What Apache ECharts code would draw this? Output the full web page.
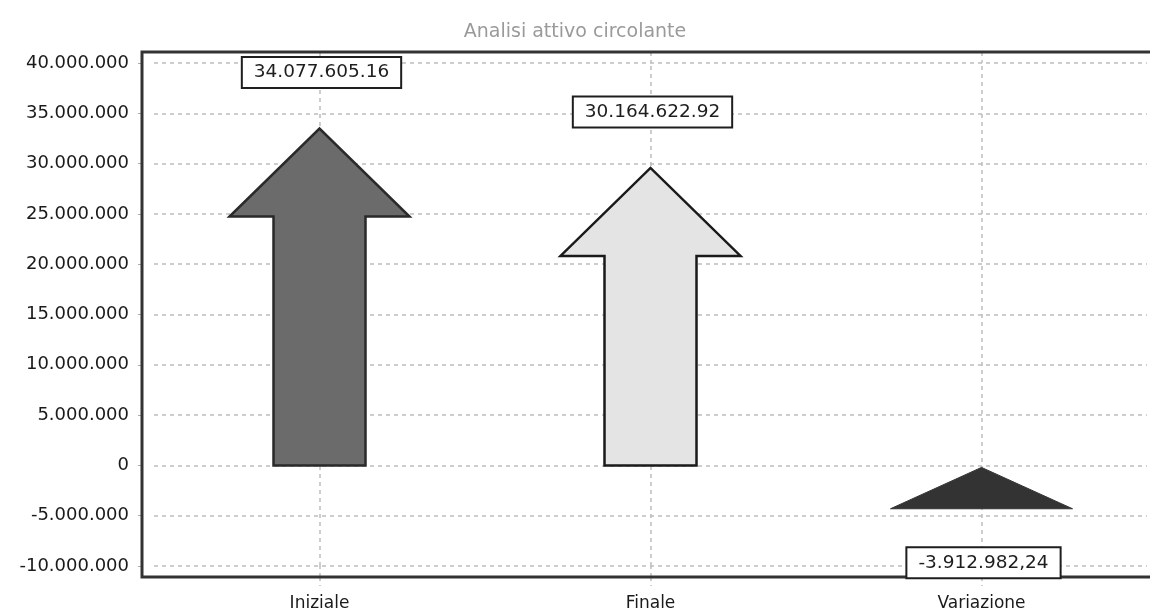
<!DOCTYPE html>
<html>
<head>
<meta charset="utf-8">
<script src="https://cdn.jsdelivr.net/npm/echarts@6/dist/echarts.min.js"></script>
<style>
html,body{margin:0;padding:0;background:#fff;}
#chart{width:1150px;height:615px;}
</style>
</head>
<body>
<div id="chart"></div>
<script>
const titleText = 'Analisi attivo circolante';
const categories = ['Iniziale', 'Finale', 'Variazione'];
const values = [34077605.16, 30164622.92, -3912982.24];
const valueLabels = ['34.077.605.16', '30.164.622.92', '-3.912.982,24'];
const yMin = -10000000;
const yMax = 40000000;
const yStep = 5000000;

const fills = ['#6b6b6b', '#e4e4e4', '#333333'];
const strokes = ['#2a2a2a', '#1a1a1a', '#333333'];

function fmt(v) {
  const s = String(Math.abs(Math.round(v))).replace(/\B(?=(\d{3})+(?!\d))/g, '.');
  return (v < 0 ? '-' : '') + s;
}

const chart = echarts.init(document.getElementById('chart'));
const FONT = '"DejaVu Sans", sans-serif';
const dash = { color: '#bdbdbd', width: 1.5, type: [4, 4] };

chart.setOption({
  animation: false,
  backgroundColor: '#ffffff',
  title: {
    text: titleText,
    left: 'center',
    top: 18,
    textStyle: { fontFamily: FONT, fontSize: 19, fontWeight: 'normal', color: '#9a9a9a' }
  },
  grid: [
    { left: 154, right: 3, top: 63, bottom: 49, containLabel: false, outerBoundsMode: 'none' },
    { left: 142, right: -20, top: 52, bottom: 38, show: true, borderColor: '#333', borderWidth: 3, backgroundColor: 'transparent', z: 5, containLabel: false, outerBoundsMode: 'none' }
  ],
  xAxis: [{
    type: 'category',
    gridIndex: 0,
    data: categories,
    position: 'bottom',
    offset: 11,
    axisLine: { show: false, onZero: false },
    axisTick: { show: true, alignWithLabel: true, length: 9, lineStyle: dash },
    axisLabel: { margin: 18, fontFamily: FONT, fontSize: 17, color: '#1a1a1a' },
    splitLine: { show: false }
  }, {
    type: 'category',
    gridIndex: 0,
    data: categories,
    position: 'top',
    offset: 11,
    axisLine: { show: false, onZero: false },
    axisTick: { show: true, inside: true, alignWithLabel: true, length: 11, lineStyle: dash },
    axisLabel: { show: false },
    splitLine: { show: false }
  }, {
    type: 'category',
    gridIndex: 0,
    data: categories,
    position: 'bottom',
    offset: 11,
    axisLine: { show: false, onZero: false },
    axisTick: { show: true, inside: true, alignWithLabel: true, length: 11, lineStyle: dash },
    axisLabel: { show: false },
    splitLine: { show: false }
  }, {
    type: 'value',
    gridIndex: 1,
    show: false
  }],
  yAxis: [{
    type: 'value',
    gridIndex: 0,
    min: yMin,
    max: yMax,
    interval: yStep,
    position: 'left',
    offset: 12,
    axisLine: { show: false },
    axisTick: { show: true, length: 4, lineStyle: { color: '#aaa' } },
    axisLabel: { margin: 13, fontFamily: FONT, fontSize: 18, color: '#1a1a1a', formatter: fmt },
    splitLine: { show: true, lineStyle: dash }
  }, {
    type: 'value',
    gridIndex: 1,
    show: false
  }],
  series: [{
    type: 'line',
    xAxisIndex: 0,
    yAxisIndex: 0,
    data: [],
    silent: true,
    z: 1,
    markLine: {
      silent: true,
      z: 1,
      symbol: ['none', 'none'],
      label: { show: false },
      lineStyle: dash,
      data: categories.map(c => ({ xAxis: c }))
    }
  }, {
    type: 'custom',
    xAxisIndex: 0,
    yAxisIndex: 0,
    z: 10,
    data: values.map((v, i) => [i, v]),
    renderItem: function (params, api) {
      const i = api.value(0);
      const v = api.value(1);
      const base = api.coord([i, 0]);
      const top = api.coord([i, v]);
      const cx = base[0];
      const children = [];
      if (v >= 0) {
        const y0 = base[1];
        const yT = top[1] + 6;
        const hb = yT + 88;
        children.push({
          type: 'polygon',
          shape: { points: [
            [cx - 46, y0], [cx - 46, hb], [cx - 90, hb], [cx, yT],
            [cx + 90, hb], [cx + 46, hb], [cx + 46, y0]
          ] },
          style: { fill: fills[i], stroke: strokes[i], lineWidth: 2.5, lineJoin: 'miter' }
        });
      } else {
        children.push({
          type: 'polygon',
          shape: { points: [[cx - 91, top[1] + 4], [cx, base[1] + 2], [cx + 91, top[1] + 4]] },
          style: { fill: fills[i], stroke: strokes[i], lineWidth: 1 }
        });
      }
      children.push({
        type: 'text',
        z2: 10,
        x: cx + 2,
        y: v >= 0 ? top[1] - 50 : top[1] + 58,
        style: {
          text: valueLabels[i],
          font: '18.5px ' + FONT,
          fill: '#1e1e1e',
          align: 'center',
          verticalAlign: 'middle',
          backgroundColor: '#ffffff',
          borderColor: '#1e1e1e',
          borderWidth: 2,
          padding: [5, 11, 5, 11]
        }
      });
      return { type: 'group', children: children };
    }
  }]
});
</script>
</body>
</html>
